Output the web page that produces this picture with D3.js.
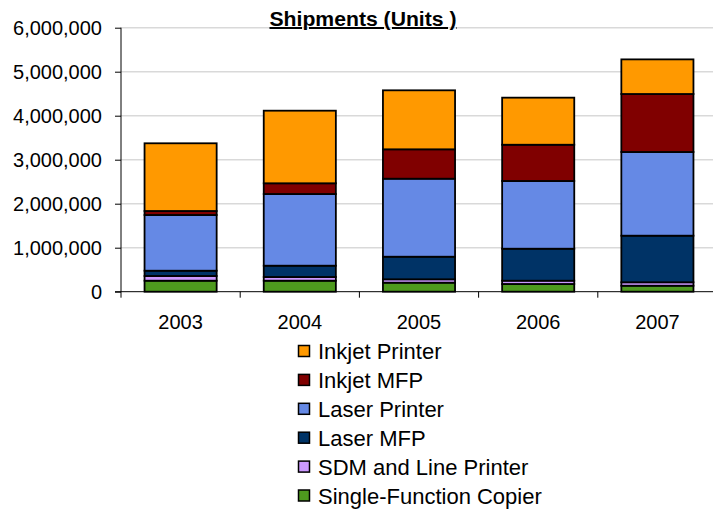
<!DOCTYPE html>
<html><head><meta charset="utf-8">
<script src="https://cdn.jsdelivr.net/npm/d3@7"></script>
<style>body{margin:0;background:#fff}svg{display:block;font-family:"Liberation Sans",Arial,sans-serif}</style>
</head><body><svg id="c" width="713" height="513"></svg>
<script>
const years = ["2003","2004","2005","2006","2007"];
const seriesNames = ["Single-Function Copier","SDM and Line Printer","Laser MFP","Laser Printer","Inkjet MFP","Inkjet Printer"];
const copier   = [250000, 250000, 205000, 175000, 136000];
const sdm      = [107000,  84000,  77000,  75000,  78000];
const laserMfp = [120000, 257000, 513000, 727000, 1059000];
const laserPr  = [1266000,1629000,1773000,1539000,1902000];
const inkjetMfp= [ 91000, 244000, 668000, 824000, 1318000];
const inkjetPr = [1539000,1650000,1341000,1070000, 787000];
const yTicks = [0,1000000,2000000,3000000,4000000,5000000,6000000];
const colors = ["#4E9A1E","#CC99FF","#003366","#6589E5","#800000","#FF9900"];

const seriesVals = [copier, sdm, laserMfp, laserPr, inkjetMfp, inkjetPr];
const rows = years.map((y,i)=>{const o={year:y}; seriesNames.forEach((s,k)=>o[s]=seriesVals[k][i]); return o;});
const stack = d3.stack().keys(seriesNames)(rows);

const svg = d3.select("#c");
const L=121, R=717, T=27.7, B=291.7;
const x = d3.scaleBand().domain(years).range([L,R]).paddingInner(0.395).paddingOuter(0.1975);
const y = d3.scaleLinear().domain([0,6000000]).range([B,T]);

// gridlines
svg.append("g").selectAll("line").data(yTicks.slice(1)).join("line")
  .attr("x1",L).attr("x2",713).attr("y1",d=>y(d)).attr("y2",d=>y(d))
  .attr("stroke","#d9d9d9").attr("stroke-width",1.5);

// bars
svg.append("g").selectAll("g").data(stack).join("g")
  .attr("fill",(d,i)=>colors[i])
  .selectAll("rect").data(d=>d).join("rect")
  .attr("x",d=>x(d.data.year)).attr("width",x.bandwidth())
  .attr("y",d=>y(d[1])).attr("height",d=>y(d[0])-y(d[1]))
  .attr("stroke","#000").attr("stroke-width",1.8);

// y axis
const yAxis = d3.axisLeft(y).tickValues(yTicks).tickSize(6).tickPadding(13).tickFormat(d3.format(","));
const ga = svg.append("g").attr("transform",`translate(${L},0)`).call(yAxis);
ga.select(".domain").remove();
ga.selectAll("line").attr("stroke","#000");
ga.selectAll("text").attr("font-size",20).attr("fill","#000").attr("font-family","Liberation Sans, Arial, sans-serif");
svg.append("line").attr("x1",L).attr("x2",L).attr("y1",T).attr("y2",B+6).attr("stroke","#000");

// x axis
svg.append("line").attr("x1",L-6).attr("x2",713).attr("y1",B).attr("y2",B).attr("stroke","#000");
const bounds = years.map(yr=>x(yr)-x.step()*x.paddingInner()/2).slice(1);
svg.append("g").selectAll("line").data(bounds).join("line")
  .attr("x1",d=>d).attr("x2",d=>d).attr("y1",B).attr("y2",B+6).attr("stroke","#000");
svg.append("g").selectAll("text").data(years).join("text")
  .attr("x",d=>x(d)+x.bandwidth()/2).attr("y",329)
  .attr("text-anchor","middle").attr("font-size",20).attr("fill","#000").text(d=>d);

// title
svg.append("text").attr("x",363).attr("y",26).attr("text-anchor","middle")
  .attr("font-size",20).attr("font-weight","bold").attr("text-decoration","underline")
  .attr("textLength",187).attr("lengthAdjust","spacingAndGlyphs")
  .text("Shipments (Units )");

// legend
const legendOrder = seriesNames.map((s,i)=>({name:s,color:colors[i]})).reverse();
const lg = svg.append("g").selectAll("g").data(legendOrder).join("g")
  .attr("transform",(d,i)=>`translate(298,${351+i*28.9})`);
lg.append("rect").attr("x",0.5).attr("y",-5.5).attr("width",11).attr("height",11)
  .attr("fill",d=>d.color).attr("stroke","#000").attr("stroke-width",1.5);
lg.append("text").attr("x",20).attr("y",8).attr("font-size",22).attr("fill","#000").text(d=>d.name);
</script></body></html>
